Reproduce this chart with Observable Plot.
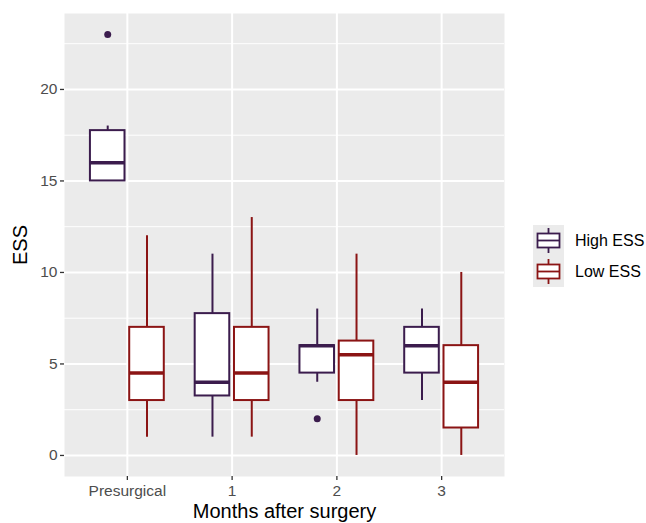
<!DOCTYPE html>
<html>
<head>
<meta charset="utf-8">
<script src="https://cdn.jsdelivr.net/npm/d3@7"></script>
<script src="https://cdn.jsdelivr.net/npm/@observablehq/plot@0.6"></script>
<style>
  body { margin: 0; background: #fff; font-family: "Liberation Sans", Arial, sans-serif; }
  #wrap { position: relative; width: 646px; height: 523px; }
  #legend { position: absolute; left: 533px; top: 225px; }
  .key { display: flex; align-items: center; height: 31px; }
  .key svg { display: block; }
  .key span { margin-left: 11px; font-size: 16px; color: #000; }
</style>
</head>
<body>
<div id="wrap"></div>
<script>
const categories = ["Presurgical", "1", "2", "3"];
const groups = ["High ESS", "Low ESS"];
const colors = ["#3b1c4d", "#8b1414"];
const yTicks = [0, 5, 10, 15, 20];
const yMinor = [2.5, 7.5, 12.5, 17.5, 22.5];

// five-number summaries per category
const highLo  = [15, 1, 4, 3];
const highQ1  = [15, 3.25, 4.5, 4.5];
const highMed = [16, 4, 6, 6];
const highQ3  = [17.75, 7.75, 6, 7];
const highHi  = [18, 11, 8, 8];

const lowLo  = [1, 1, 0, 0];
const lowQ1  = [3, 3, 3, 1.5];
const lowMed = [4.5, 4.5, 5.5, 4];
const lowQ3  = [7, 7, 6.25, 6];
const lowHi  = [12, 13, 11, 10];

const outlierCat   = ["Presurgical", "2"];
const outlierGroup = ["High ESS", "High ESS"];
const outlierVal   = [23, 2];

const dodge = 0.1875, half = 0.165;
const gi = g => groups.indexOf(g);
const boxes = [];
categories.forEach((c, i) => {
  boxes.push({cat: c, group: "High ESS", lo: highLo[i], q1: highQ1[i], med: highMed[i], q3: highQ3[i], hi: highHi[i]});
  boxes.push({cat: c, group: "Low ESS", lo: lowLo[i], q1: lowQ1[i], med: lowMed[i], q3: lowQ3[i], hi: lowHi[i]});
});
boxes.forEach(b => { b.xc = categories.indexOf(b.cat) + (gi(b.group) === 0 ? -dodge : dodge); });
const outliers = outlierVal.map((v, i) => ({
  v, group: outlierGroup[i],
  xc: categories.indexOf(outlierCat[i]) + (gi(outlierGroup[i]) === 0 ? -dodge : dodge)
}));

const plot = Plot.plot({
  width: 646,
  height: 523,
  marginLeft: 64,
  marginRight: 142,
  marginTop: 13,
  marginBottom: 47,
  style: {fontFamily: "Liberation Sans, Arial, sans-serif", background: "#fff"},
  x: {domain: [-0.6, 3.6]},
  y: {domain: [-1.15, 24.15]},
  color: {domain: groups, range: colors},
  marks: [
    Plot.frame({fill: "#ebebeb", stroke: null}),
    Plot.ruleY(yMinor, {stroke: "#fff", strokeWidth: 1}),
    Plot.ruleY(yTicks, {stroke: "#fff", strokeWidth: 2}),
    Plot.ruleX(categories.map((c, i) => i), {stroke: "#fff", strokeWidth: 2}),
    Plot.ruleX(boxes, {x: "xc", y1: "lo", y2: "hi", stroke: "group", strokeWidth: 2}),
    Plot.rect(boxes, {x1: d => d.xc - half, x2: d => d.xc + half, y1: "q1", y2: "q3", fill: "#fff", stroke: "group", strokeWidth: 2}),
    Plot.ruleY(boxes, {x1: d => d.xc - half, x2: d => d.xc + half, y: "med", stroke: "group", strokeWidth: 3.5}),
    Plot.dot(outliers, {x: "xc", y: "v", fill: "group", r: 3.5, stroke: null}),
    Plot.axisY({ticks: yTicks, tickSize: 4, tickPadding: 3, fontSize: 15.5, color: "#4d4d4d", stroke: "#333", strokeWidth: 1.3, label: null}),
    Plot.axisX({ticks: [0, 1, 2, 3], tickFormat: i => categories[i], tickSize: 4, tickPadding: 4, fontSize: 15.5, color: "#4d4d4d", stroke: "#333", strokeWidth: 1.3, label: null}),
    Plot.text(["Months after surgery"], {frameAnchor: "bottom", dy: 27, fontSize: 20, fill: "#000", lineAnchor: "top"}),
    Plot.text(["ESS"], {frameAnchor: "left", dx: -44, rotate: -90, fontSize: 20, fill: "#000", textAnchor: "middle"})
  ]
});
document.getElementById("wrap").appendChild(plot);

// legend
const legend = document.createElement("div");
legend.id = "legend";
groups.forEach((g, i) => {
  const c = colors[i];
  const row = document.createElement("div");
  row.className = "key";
  row.innerHTML = `<svg width="31" height="31"><rect width="31" height="31" fill="#ebebeb"/>
    <line x1="15.5" x2="15.5" y1="3" y2="28" stroke="${c}" stroke-width="1.8"/>
    <rect x="4.5" y="8.5" width="22" height="14" fill="#fff" stroke="${c}" stroke-width="1.8"/>
    <line x1="4.5" x2="26.5" y1="15.5" y2="15.5" stroke="${c}" stroke-width="1.8"/></svg><span>${g}</span>`;
  legend.appendChild(row);
});
document.getElementById("wrap").appendChild(legend);
</script>
</body>
</html>
